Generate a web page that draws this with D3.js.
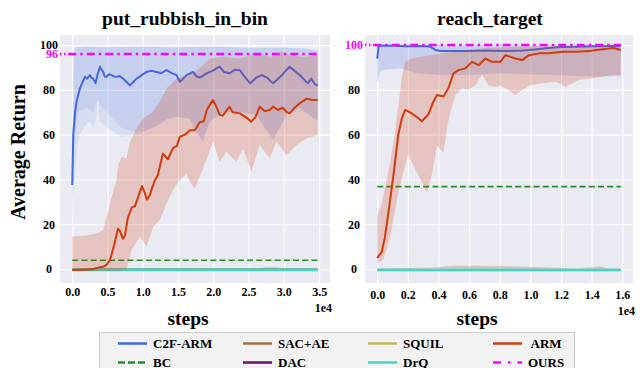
<!DOCTYPE html>
<html>
<head>
<meta charset="utf-8">
<script src="https://cdn.jsdelivr.net/npm/d3@7"></script>
<style>
  body { margin: 0; background: #fff; }
  svg text { font-family: "Liberation Serif", "Times New Roman", serif; font-weight: bold; }
</style>
</head>
<body>
<svg id="chart" width="644" height="368"></svg>
<script>
// ---- data: put_rubbish_in_bin ----
const binXTicks = [0, 5000, 10000, 15000, 20000, 25000, 30000, 35000]
const binYLabels = [0, 20, 40, 60, 80, 100]
const binXMax = 34800
const binOurs = 96
const binBc = 3.9

const binC2fMean = [[0,37.5],[140,60],[400,70],[620,75],[1090,80.7],[1400,83],[1790,85.8],[2100,85],[2500,86.6],[2700,85.5],[2970,85],[3300,83],[3600,87],[3930,90.3],[4150,89],[4390,88],[4600,86],[4860,85.8],[5200,87],[5570,86.6],[5900,86],[6270,85.8],[6700,86.2],[7220,85],[7700,83.5],[8170,82],[8650,83.5],[9120,85],[9800,86.5],[10530,88],[11200,88.5],[11940,88],[12600,87.5],[13370,88.8],[14100,87.5],[14780,86.6],[15250,83.6],[15700,85],[16200,86.6],[17140,88],[17600,86],[18080,85.5],[18600,86.5],[19070,87.4],[19900,88.5],[20630,90],[20910,90.3],[21500,88],[22280,87.4],[23030,89],[23750,88.8],[24400,86],[25230,82.9],[26100,85.5],[26870,86.6],[27600,85.5],[28460,82.9],[29200,85],[29840,87],[30400,89],[30820,90.3],[31500,88.5],[32240,86.6],[33420,82.9],[33890,85],[34400,82.5],[34800,82]]
const binC2fUpper = [[0,50],[200,96],[500,99],[2000,99.2],[5000,99],[10000,99.2],[15000,99],[20000,99.2],[25000,98.8],[30000,98.8],[33000,98.5],[34800,97.5]]
const binC2fLowerPale = [[0,22],[300,40],[700,55],[1100,60],[1800,64],[2500,66],[3000,63],[3400,68],[3600,75],[3900,66],[5000,63],[6000,61],[7000,59],[8500,60],[9500,60],[10500,62],[12000,64],[13500,67],[15000,68],[16700,67],[17400,62],[18500,57],[19500,66],[21400,70],[23700,70],[26100,69],[27300,63],[28500,58],[30400,69],[32200,72],[34800,66]]
const binC2fLowerDark = [[0,30],[300,55],[800,70],[2000,72],[3000,70],[3600,76],[4000,73],[5000,70],[6000,66],[7000,63],[8000,62],[9000,61],[10500,62],[12000,64],[13500,67],[15000,68],[16700,67],[17400,62],[18500,57],[19500,66],[21400,70],[23700,70],[26100,69],[27300,63],[28500,58],[30400,69],[32200,72],[34800,66]]

const binArmMean = [[0,-0.5],[1500,-0.3],[3000,0],[3500,0.5],[4350,1],[4900,2],[5340,4],[5620,7],[6050,12],[6470,18],[6750,17],[7180,13.5],[7460,15],[7890,23],[8450,27.5],[8880,28],[9160,30.5],[9870,37],[10290,34],[10580,31],[11000,33],[11290,36],[11710,39.5],[12140,42],[12840,51.5],[13560,49],[14270,54],[14830,55],[15250,59],[15960,60],[16670,62],[17370,62],[18080,65.5],[18650,66],[19070,71],[19920,75.5],[20350,73],[20630,71],[20910,68.8],[21340,68.5],[22280,72.5],[22760,70],[23750,69.5],[24740,67.5],[25400,65.8],[26000,68],[26580,72.5],[27300,70.5],[28010,71],[28460,72.5],[29130,71],[29840,72],[30360,70.2],[30820,69.5],[31530,72],[32240,74],[33190,76],[34080,75.5],[34800,75.5]]
const binArmUpper = [[0,14.5],[2000,15],[3500,16],[4390,17.4],[5340,29.3],[6290,40],[6510,46.4],[7000,50],[7700,49.4],[8170,56.8],[9120,62.8],[10050,67.3],[11470,70.2],[12420,74.7],[13370,80.7],[14780,85],[16200,86.6],[17370,88],[18550,91],[19500,94],[21380,94.8],[23750,94],[26110,96.3],[28010,94.8],[29650,97],[30820,95.5],[32710,94.8],[34800,95.5]]
const binArmLower = [[0,-1],[3000,-1],[7000,-1],[7700,0],[8410,8.5],[9590,14.4],[10530,10],[11470,18.9],[12420,21.9],[13370,29.3],[14300,35.3],[15250,39.7],[16200,42.7],[16670,39],[17370,36],[18550,45],[19970,56.8],[20910,47.9],[21860,52.4],[23280,47.9],[24210,53.9],[25400,43.4],[26580,55.4],[28010,49.4],[28940,56.8],[30360,50.9],[31780,55.4],[33190,58.3],[34800,59.8]]

const binSacMean = [[0,-0.3],[34800,-0.3]]
const binSacUpper = [[0,0.2],[26500,0.2],[27500,0.9],[29000,0.9],[30000,0.2],[34800,0.2]]
const binSacLower = [[0,-1],[34800,-1]]
const binDacMean = [[0,-0.3],[34800,-0.3]]
const binSquilMean = [[0,-0.3],[34800,-0.3]]
const binDrqMean = [[0,-0.3],[34800,-0.3]]

// ---- data: reach_target ----
const reachXTicks = [0, 2000, 4000, 6000, 8000, 10000, 12000, 14000, 16000]
const reachYLabels = [0, 20, 40, 60, 80]
const reachXMax = 15900
const reachOurs = 100
const reachBc = 36.8

const reachC2fMean = [[0,94],[100,99.8],[1000,99.7],[2000,99.5],[3000,99.6],[3500,99.2],[3800,97.8],[4100,97.4],[5000,97.3],[6000,97.4],[7000,97.6],[7500,97.5],[8500,97.3],[9500,97.6],[10300,98],[11000,98.6],[12000,99.1],[13000,99.3],[14000,99.5],[15900,99.6]]
const reachC2fUpper = [[0,100],[15900,100]]
const reachC2fLower = [[0,84],[80,84],[150,88],[400,89],[1600,89.5],[2500,87.5],[4000,86.6],[6000,86.6],[8000,87.4],[10000,87],[12000,86.5],[14000,86],[15900,86]]

const reachArmMean = [[0,5],[290,7.5],[500,14],[830,30],[1100,44],[1380,60],[1600,67],[1820,71],[2000,70.5],[2250,69.5],[2690,67.3],[2910,66],[3340,69],[3670,74.7],[3900,77.7],[4330,77],[4660,81],[4980,87.4],[5310,88.8],[5750,89.6],[6190,92.5],[6620,91],[7060,94],[7500,92.5],[7720,92.5],[8050,92.5],[8370,95.5],[9020,94],[9470,93.3],[9900,95.5],[10560,96.3],[11210,96.3],[12090,97],[12960,97],[13840,97.3],[14270,97.8],[14930,98.2],[15370,98.8],[15900,97.8]]
const reachArmUpper = [[0,24],[250,28],[500,36],[830,47],[1150,60],[1380,73],[1600,85],[1820,92.5],[2250,94],[3000,95],[4000,96],[5000,97],[6000,98],[8000,99],[10000,99.5],[15900,99.5]]
const reachArmLower = [[0,2.5],[400,4],[830,14],[1380,34],[2000,51],[2450,45],[2910,39],[3240,34],[3560,42],[3900,55],[4330,52],[4660,67],[5100,77.7],[5530,80.7],[5970,80],[6400,82],[6840,86.6],[7280,82],[7720,81.4],[8050,82],[8370,80.7],[9020,77.7],[9900,82],[10780,82.9],[11650,83.6],[12310,81.4],[13180,84.4],[13840,85],[14710,85.8],[15370,86.6],[15900,86.6]]

const reachSacMean = [[0,-0.5],[15900,-0.5]]
const reachSacUpper = [[0,0.3],[3500,0.6],[5000,1.5],[8000,1.3],[10000,1],[12000,0.5],[13000,0.2],[14000,0.8],[14500,1.2],[15000,0.3],[15900,0.2]]
const reachSacLower = [[0,-1],[15900,-1]]
const reachDacMean = [[0,-0.5],[15900,-0.5]]
const reachSquilMean = [[0,-0.5],[15900,-0.5]]
const reachDrqMean = [[0,-0.5],[15900,-0.5]]

// legend order (matplotlib fills column-wise)
const legendLabels = ["C2F-ARM", "BC", "SAC+AE", "DAC", "SQUIL", "DrQ", " ARM", "OURS"]

const colors = {
  "C2F-ARM": "#4169e1", "BC": "#23902a", "SAC+AE": "#a4723f", "DAC": "#6a0f6a",
  "SQUIL": "#c8b65e", "DrQ": "#3fd6c4", "ARM": "#d03c0c", "OURS": "#ff00ff"
}
const widths = {"C2F-ARM": 2, "BC": 1.6, "SAC+AE": 2, "DAC": 2, "SQUIL": 2, "DrQ": 2.5, "ARM": 2, "OURS": 2.5}
const dashes = {"BC": "6,3.2", "OURS": "8,4,2.5,4"}

const panels = [
  {
    title: "put_rubbish_in_bin", left: 60, right: 330, titleX: 185, stepsX: 188,
    xMax: binXMax, xTicks: binXTicks, yLabels: binYLabels, tickPad: 4, offsetY: 312,
    ours: binOurs, oursAnchor: "end", oursX: 58,
    series: [
      {name: "C2F-ARM", mean: binC2fMean, bands: [{up: binC2fUpper, lo: binC2fLowerPale, op: 0.11}, {up: binC2fUpper, lo: binC2fLowerDark, op: 0.11}]},
      {name: "BC", mean: [[0, binBc], [binXMax, binBc]]},
      {name: "SAC+AE", mean: binSacMean, bands: [{up: binSacUpper, lo: binSacLower, op: 0.3}]},
      {name: "DAC", mean: binDacMean},
      {name: "SQUIL", mean: binSquilMean},
      {name: "DrQ", mean: binDrqMean},
      {name: "ARM", mean: binArmMean, bands: [{up: binArmUpper, lo: binArmLower, op: 0.22}]}
    ]
  },
  {
    title: "reach_target", left: 365, right: 633, titleX: 490, stepsX: 477,
    xMax: reachXMax, xTicks: reachXTicks, yLabels: reachYLabels, tickPad: 7.5, offsetY: 315,
    ours: reachOurs, oursAnchor: "middle", oursX: 354,
    series: [
      {name: "C2F-ARM", mean: reachC2fMean, bands: [{up: reachC2fUpper, lo: reachC2fLower, op: 0.2}]},
      {name: "BC", mean: [[0, reachBc], [reachXMax, reachBc]]},
      {name: "SAC+AE", mean: reachSacMean, bands: [{up: reachSacUpper, lo: reachSacLower, op: 0.3}]},
      {name: "DAC", mean: reachDacMean},
      {name: "SQUIL", mean: reachSquilMean},
      {name: "DrQ", mean: reachDrqMean},
      {name: "ARM", mean: reachArmMean, bands: [{up: reachArmUpper, lo: reachArmLower, op: 0.22}]}
    ]
  }
]

const svg = d3.select("#chart")
const plotTop = 35, plotBottom = 283

function drawPanel(p, idx) {
  let x = d3.scaleLinear().domain([-0.05 * p.xMax, 1.05 * p.xMax]).range([p.left, p.right])
  let y = d3.scaleLinear().domain([-6.25, 104.5]).range([plotBottom, plotTop])
  let g = svg.append("g")

  g.append("rect")
    .attr("x", p.left).attr("y", plotTop)
    .attr("width", p.right - p.left).attr("height", plotBottom - plotTop)
    .attr("fill", "#eaeaf2")

  // white grid
  g.append("g")
    .attr("transform", `translate(0,${plotBottom})`)
    .call(d3.axisBottom(x).tickValues(p.xTicks).tickSize(-(plotBottom - plotTop)).tickFormat(""))
    .call(a => a.select(".domain").remove())
    .call(a => a.selectAll("line").attr("stroke", "#fff").attr("stroke-width", 1.1))
  g.append("g")
    .attr("transform", `translate(${p.left},0)`)
    .call(d3.axisLeft(y).tickValues([0, 20, 40, 60, 80, 100]).tickSize(-(p.right - p.left)).tickFormat(""))
    .call(a => a.select(".domain").remove())
    .call(a => a.selectAll("line").attr("stroke", "#fff").attr("stroke-width", 1.1))

  // tick labels
  g.append("g")
    .attr("transform", `translate(0,${plotBottom})`)
    .call(d3.axisBottom(x).tickValues(p.xTicks).tickSize(0).tickPadding(p.tickPad).tickFormat(d => (d / 1e4).toFixed(1)))
    .call(a => a.select(".domain").remove())
    .call(a => a.selectAll("text").attr("font-size", 12).attr("fill", "#000")
      .style("font-family", '"Liberation Serif", serif').style("font-weight", "bold"))
  g.append("g")
    .attr("transform", `translate(${p.left},0)`)
    .call(d3.axisLeft(y).tickValues(p.yLabels).tickSize(0).tickPadding(11))
    .call(a => a.select(".domain").remove())
    .call(a => a.selectAll("text").attr("font-size", 12).attr("fill", "#000").attr("text-anchor", "middle")
      .style("font-family", '"Liberation Serif", serif').style("font-weight", "bold"))

  g.append("text")
    .attr("x", p.oursX).attr("y", y(p.ours)).attr("dy", "0.33em")
    .attr("text-anchor", p.oursAnchor)
    .attr("font-size", 12).attr("fill", colors["OURS"])
    .text(p.ours)

  // offset text
  g.append("text")
    .attr("x", p.right + 2).attr("y", p.offsetY)
    .attr("text-anchor", "end").attr("font-size", 12)
    .text("1e4")

  // titles
  g.append("text")
    .attr("x", p.titleX).attr("y", 25)
    .attr("text-anchor", "middle").attr("font-size", 19.5)
    .text(p.title)
  g.append("text")
    .attr("x", p.stepsX).attr("y", 325)
    .attr("text-anchor", "middle").attr("font-size", 19.5)
    .text("steps")

  // data
  svg.append("clipPath").attr("id", "clip" + idx)
    .append("rect")
    .attr("x", p.left).attr("y", plotTop)
    .attr("width", p.right - p.left).attr("height", plotBottom - plotTop)
  let plot = g.append("g").attr("clip-path", `url(#clip${idx})`)

  let line = d3.line().x(d => x(d[0])).y(d => y(d[1]))

  p.series.forEach(s => {
    (s.bands || []).forEach(b => {
      plot.append("path")
        .attr("d", line(b.up.concat(b.lo.slice().reverse())) + "Z")
        .attr("fill", colors[s.name])
        .attr("fill-opacity", b.op)
    })
    plot.append("path")
      .attr("d", line(s.mean))
      .attr("fill", "none")
      .attr("stroke", colors[s.name])
      .attr("stroke-width", widths[s.name])
      .attr("stroke-dasharray", dashes[s.name] || null)
      .attr("stroke-linejoin", "round")
  })

  // OURS: dotted lead-in then dash-dot across
  plot.append("path")
    .attr("d", line([[x.invert(p.left), p.ours], [x.invert(x(0) - 4), p.ours]]))
    .attr("stroke", colors["OURS"]).attr("stroke-width", widths["OURS"])
    .attr("stroke-dasharray", "1.5,2.5")
  plot.append("path")
    .attr("d", line([[x.invert(x(0) - 4), p.ours], [p.xMax, p.ours]]))
    .attr("stroke", colors["OURS"]).attr("stroke-width", widths["OURS"])
    .attr("stroke-dasharray", dashes["OURS"])
}

panels.forEach(drawPanel)

// y label
svg.append("text")
  .attr("transform", "translate(25,152) rotate(-90)")
  .attr("text-anchor", "middle")
  .attr("font-size", 20)
  .text("Average Return")

// legend
let legend = svg.append("g")
legend.append("rect")
  .attr("x", 99.5).attr("y", 332.5)
  .attr("width", 475).attr("height", 50)
  .attr("fill", "#f2f2f2").attr("stroke", "#cccccc")

const colX = [118, 243, 368, 493]
const rowY = [343.5, 362.5]
let items = legend.selectAll(".legend-item")
  .data(legendLabels)
  .enter().append("g")
  .attr("class", "legend-item")
  .attr("transform", (d, i) => `translate(${colX[Math.floor(i / 2)]},${rowY[i % 2]})`)

items.append("line")
  .attr("x1", 0).attr("x2", 29).attr("y1", 0).attr("y2", 0)
  .attr("stroke", d => colors[d.trim()])
  .attr("stroke-width", 2.5)
  .attr("stroke-dasharray", d => d == "BC" ? "7,3" : d == "OURS" ? "8,7,2.5,7" : null)

items.append("text")
  .attr("x", 35).attr("dy", "0.35em")
  .attr("font-size", 13)
  .style("white-space", "pre")
  .text(d => d)
</script>
</body>
</html>
